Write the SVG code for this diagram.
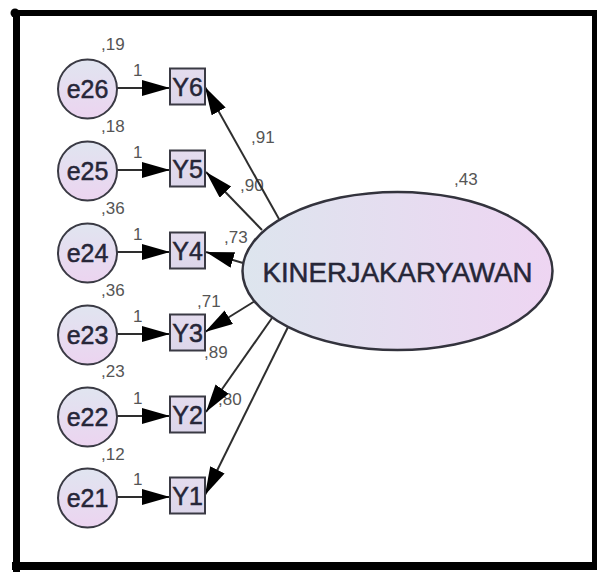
<svg xmlns="http://www.w3.org/2000/svg" width="597" height="572" viewBox="0 0 597 572">
  <style>
    .frame { stroke: #000; fill: none; }
    .err { stroke: #3a3a44; stroke-width: 2; fill: url(#circleFill); }
    .obs { stroke: #3a3a44; stroke-width: 2; fill: url(#boxFill); }
    .lat { stroke: #33333d; stroke-width: 2.5; fill: url(#latentFill); }
    .name { font-family: "Liberation Sans", Arial, sans-serif; fill: #262638; stroke: #262638; stroke-width: 0.5; text-anchor: middle; }
    .num { font-family: "Liberation Sans", Arial, sans-serif; font-size: 17px; fill: #555; }
    .path { stroke: #2e2e2e; stroke-width: 2; fill: none; marker-end: url(#head); }
  </style>
  <defs>
    <linearGradient id="circleFill" x1="0" y1="0" x2="0" y2="1">
      <stop offset="0" stop-color="#e0e5f0"/>
      <stop offset="1" stop-color="#ecd4f0"/>
    </linearGradient>
    <linearGradient id="boxFill" x1="0" y1="0" x2="0" y2="1">
      <stop offset="0" stop-color="#e4dcee"/>
      <stop offset="1" stop-color="#dcd6ea"/>
    </linearGradient>
    <linearGradient id="latentFill" x1="0" y1="0" x2="1" y2="0">
      <stop offset="0" stop-color="#dde5ee"/>
      <stop offset="1" stop-color="#eed5f2"/>
    </linearGradient>
    <marker id="head" markerUnits="userSpaceOnUse" markerWidth="30" markerHeight="18" refX="28" refY="8" orient="auto">
      <path d="M0,0 L28,8 L0,16 Z" fill="#000"/>
    </marker>
  </defs>

  <rect width="597" height="572" fill="#fff"/>

  <!-- outer frame -->
  <g id="frame" class="frame">
    <line x1="12" y1="13" x2="597" y2="13" stroke-width="6"/>
    <line x1="16.5" y1="10" x2="16.5" y2="572" stroke-width="7"/>
    <line x1="594.5" y1="10" x2="594.5" y2="570" stroke-width="5"/>
    <line x1="12" y1="566" x2="597" y2="566" stroke-width="8"/>
    <circle cx="15" cy="13" r="4.5" fill="#000" stroke="none"/>
  </g>

  <!-- estimates -->
  <g id="labels">
    <text class="num" x="101" y="50">,19</text>
    <text class="num" x="101" y="132">,18</text>
    <text class="num" x="101" y="214">,36</text>
    <text class="num" x="101" y="296">,36</text>
    <text class="num" x="101" y="377">,23</text>
    <text class="num" x="101" y="460">,12</text>
    <text class="num" x="133" y="76">1</text>
    <text class="num" x="133" y="158">1</text>
    <text class="num" x="133" y="240">1</text>
    <text class="num" x="133" y="322">1</text>
    <text class="num" x="133" y="404">1</text>
    <text class="num" x="133" y="485">1</text>
    <text class="num" x="251" y="143">,91</text>
    <text class="num" x="240" y="191">,90</text>
    <text class="num" x="224" y="243">,73</text>
    <text class="num" x="197" y="307">,71</text>
    <text class="num" x="204" y="358">,89</text>
    <text class="num" x="218" y="405">,80</text>
    <text class="num" x="454" y="185">,43</text>
  </g>

  <!-- paths -->
  <g id="connectors">
    <line class="path" x1="117" y1="88" x2="170" y2="88"/>
    <line class="path" x1="117" y1="170" x2="170" y2="170"/>
    <line class="path" x1="117" y1="252" x2="170" y2="252"/>
    <line class="path" x1="117" y1="334" x2="170" y2="334"/>
    <line class="path" x1="117" y1="416" x2="170" y2="416"/>
    <line class="path" x1="117" y1="497" x2="170" y2="497"/>
    <line class="path" x1="279" y1="219" x2="205" y2="87"/>
    <line class="path" x1="262" y1="230" x2="206" y2="172"/>
    <line class="path" x1="243" y1="263" x2="206" y2="252"/>
    <line class="path" x1="255" y1="301" x2="205" y2="332"/>
    <line class="path" x1="272" y1="318" x2="206" y2="412"/>
    <line class="path" x1="288" y1="327" x2="205" y2="495"/>
  </g>

  <!-- error terms -->
  <g id="e26"><circle class="err" cx="87.5" cy="89" r="29.5"/><text class="name" x="87.5" y="98" font-size="25">e26</text></g>
  <g id="e25"><circle class="err" cx="87.5" cy="171" r="29.5"/><text class="name" x="87.5" y="180" font-size="25">e25</text></g>
  <g id="e24"><circle class="err" cx="87.5" cy="253" r="29.5"/><text class="name" x="87.5" y="262" font-size="25">e24</text></g>
  <g id="e23"><circle class="err" cx="87.5" cy="335" r="29.5"/><text class="name" x="87.5" y="344" font-size="25">e23</text></g>
  <g id="e22"><circle class="err" cx="87.5" cy="417" r="29.5"/><text class="name" x="87.5" y="426" font-size="25">e22</text></g>
  <g id="e21"><circle class="err" cx="87.5" cy="498" r="29.5"/><text class="name" x="87.5" y="507" font-size="25">e21</text></g>

  <!-- observed indicators -->
  <g id="Y6"><rect class="obs" x="170" y="68.5" width="35" height="36"/><text class="name" x="187.5" y="95.5" font-size="25">Y6</text></g>
  <g id="Y5"><rect class="obs" x="170" y="150.5" width="35" height="36"/><text class="name" x="187.5" y="177.5" font-size="25">Y5</text></g>
  <g id="Y4"><rect class="obs" x="170" y="232.5" width="35" height="36"/><text class="name" x="187.5" y="259.5" font-size="25">Y4</text></g>
  <g id="Y3"><rect class="obs" x="170" y="314.5" width="35" height="36"/><text class="name" x="187.5" y="341.5" font-size="25">Y3</text></g>
  <g id="Y2"><rect class="obs" x="170" y="396.5" width="35" height="36"/><text class="name" x="187.5" y="423.5" font-size="25">Y2</text></g>
  <g id="Y1"><rect class="obs" x="170" y="477.5" width="35" height="36"/><text class="name" x="187.5" y="504.5" font-size="25">Y1</text></g>

  <!-- latent construct -->
  <g id="KINERJAKARYAWAN">
    <ellipse class="lat" cx="397.5" cy="271" rx="155" ry="79"/>
    <text class="name" x="397.5" y="282" font-size="27" textLength="270" lengthAdjust="spacingAndGlyphs">KINERJAKARYAWAN</text>
  </g>
</svg>
